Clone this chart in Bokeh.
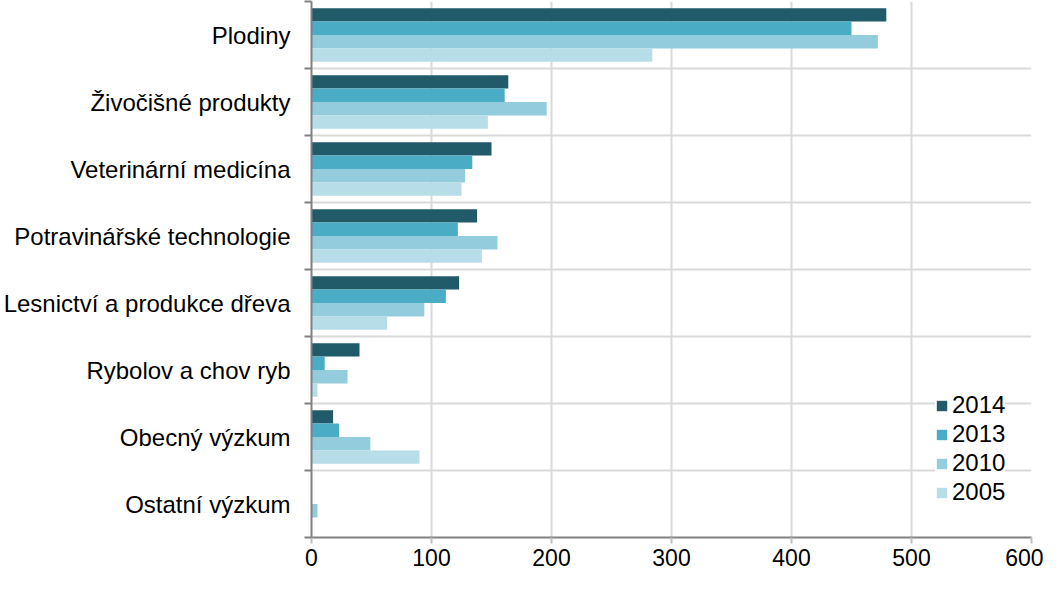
from bokeh.plotting import figure
from bokeh.models import Range1d, FixedTicker, ColumnDataSource
from bokeh.transform import dodge
from bokeh.embed import file_html
from bokeh.resources import INLINE

categories = ["Plodiny", "Živočišné produkty", "Veterinární medicína",
              "Potravinářské technologie", "Lesnictví a produkce dřeva",
              "Rybolov a chov ryb", "Obecný výzkum", "Ostatní výzkum"]
v2014 = [479, 164, 150, 138, 123, 40, 18, 0]
v2013 = [450, 161, 134, 122, 112, 11, 23, 0]
v2010 = [472, 196, 128, 155, 94, 30, 49, 5]
v2005 = [284, 147, 125, 142, 63, 5, 90, 0]
series = ["2014", "2013", "2010", "2005"]
colors = ["#215A69", "#4BACC6", "#93CDDD", "#B7DEE8"]
x_ticks = [0, 100, 200, 300, 400, 500, 600]

n = len(categories)
ypos = [n - 1 - i for i in range(n)]
source = ColumnDataSource(dict(y=ypos, cat=categories, v2014=v2014, v2013=v2013,
                               v2010=v2010, v2005=v2005))

FONT = "Liberation Sans"

p = figure(width=1043, height=581, x_range=Range1d(0, 600),
           y_range=Range1d(-0.5, n - 0.5), output_backend="svg",
           toolbar_location=None, min_border_left=304, min_border_right=12,
           min_border_top=1, min_border_bottom=44)
p.outline_line_color = None
p.background_fill_color = "white"
p.border_fill_color = "white"

offsets = [0.3, 0.1, -0.1, -0.3]
fields = ["v2014", "v2013", "v2010", "v2005"]
for f, off, c, lab in zip(fields, offsets, colors, series):
    p.hbar(y=dodge("y", off), left=0, right=f, height=0.2, source=source,
           fill_color=c, line_color=None, legend_label=lab)

# x axis
p.xaxis.ticker = FixedTicker(ticks=x_ticks, minor_ticks=[])
p.xaxis.axis_line_color = "#808080"
p.xaxis.axis_line_width = 2
p.xaxis.major_tick_line_color = "#BFBFBF"
p.xaxis.major_tick_line_width = 2
p.xaxis.major_tick_out = 6
p.xaxis.major_tick_in = 0
p.xaxis.major_label_standoff = 5
p.xaxis.major_label_text_font = FONT
p.xaxis.major_label_text_font_size = "23px"
p.xaxis.major_label_text_color = "#000000"

# y axis
boundaries = [b - 0.5 for b in range(n + 1)]
p.yaxis.ticker = FixedTicker(ticks=ypos, minor_ticks=boundaries)
p.yaxis.major_label_overrides = {y: c for y, c in zip(ypos, categories)}
p.yaxis.axis_line_color = "#808080"
p.yaxis.axis_line_width = 2
p.yaxis.major_tick_line_color = None
p.yaxis.major_tick_out = 0
p.yaxis.major_tick_in = 0
p.yaxis.minor_tick_line_color = "#808080"
p.yaxis.minor_tick_line_width = 2
p.yaxis.minor_tick_out = 7
p.yaxis.minor_tick_in = 0
p.yaxis.major_label_standoff = 14
p.yaxis.major_label_text_font = FONT
p.yaxis.major_label_text_font_size = "24px"
p.yaxis.major_label_text_color = "#000000"

# grids
p.xgrid.grid_line_color = "#D9D9D9"
p.xgrid.grid_line_width = 2
p.ygrid.ticker = FixedTicker(ticks=boundaries)
p.ygrid.grid_line_color = "#D9D9D9"
p.ygrid.grid_line_width = 2

# legend
lg = p.legend[0]
lg.location = (624, 31)
lg.margin = 0
lg.padding = 6
lg.spacing = 1
lg.label_height = 27
lg.glyph_width = 13
lg.glyph_height = 13
lg.label_standoff = 4
lg.label_text_font = FONT
lg.label_text_font_size = "24px"
lg.label_text_color = "#000000"
lg.border_line_color = None
lg.background_fill_color = "white"
lg.background_fill_alpha = 1.0

open("out.html", "w").write(file_html(p, INLINE))
